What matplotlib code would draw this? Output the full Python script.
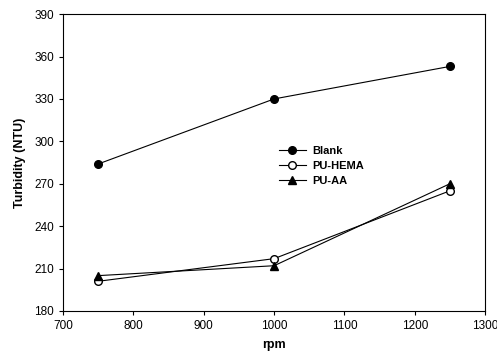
import matplotlib
matplotlib.use("Agg")
import matplotlib.pyplot as plt

plt.rcParams['font.family'] = ['Liberation Sans', 'DejaVu Sans']

rpm = [750, 1000, 1250]
blank = [284, 330, 353]
pu_hema = [201, 217, 265]
pu_aa = [205, 212, 270]
xticks = [700, 800, 900, 1000, 1100, 1200, 1300]
yticks = [180, 210, 240, 270, 300, 330, 360, 390]

fig = plt.figure(figsize=(4.97, 3.62), dpi=100)
ax = fig.add_axes([0.127, 0.141, 0.849, 0.820])

ax.plot(rpm, blank, '-o', color='black', lw=0.8, ms=5.5, mfc='black', label='Blank')
ax.plot(rpm, pu_hema, '-o', color='black', lw=0.8, ms=5.5, mfc='white', label='PU-HEMA')
ax.plot(rpm, pu_aa, '-^', color='black', lw=0.8, ms=5.5, mfc='black', label='PU-AA')

ax.set_xlim(700, 1300)
ax.set_ylim(180, 390)
ax.set_xticks(xticks)
ax.set_yticks(yticks)
ax.tick_params(axis='both', direction='out', length=3, width=0.8, labelsize=8.5, top=False, right=False)
for s in ax.spines.values():
    s.set_linewidth(0.8)

ax.set_xlabel('rpm', fontsize=9, fontweight='bold', labelpad=5)
ax.set_ylabel('Turbidity (NTU)', fontsize=9, fontweight='bold', labelpad=6)

leg = ax.legend(loc='upper left', bbox_to_anchor=(0.5, 0.57), frameon=False,
                prop={'weight': 'bold', 'size': 8}, handlelength=2.5,
                handletextpad=0.5, labelspacing=0.45, borderaxespad=0)

fig.savefig('out.png', dpi=100)
